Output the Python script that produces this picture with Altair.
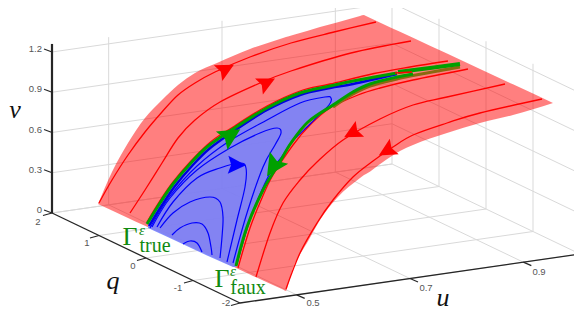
import altair as alt

W, H = 566, 301
X_DOM = [8, 574]
Y_DOM = [309, 8]

# axis ticks
u_ticks = [0.5, 0.7, 0.9]
q_ticks = [-2, -1, 0, 1, 2]
v_ticks = [0, 0.3, 0.6, 0.9, 1.2]
U_MIN, U_MAX, Q_MAX, V_TOP = 0.4, 1.0, 2, 1.25


def proj(u, q, v):
    sx = 52 + (u - U_MIN) / 0.6 * 340 + (Q_MAX - q) / 4 * 188
    sy = 213 - (u - U_MIN) / 0.6 * 49 + (Q_MAX - q) / 4 * 90 - v / 1.2 * 161
    return sx, sy


# surface silhouette (picture plane)
surf_x = [98, 112, 128, 145, 162, 178, 195, 217, 250, 283, 286, 288, 293, 300, 307, 320, 337, 360, 364, 366, 383, 400, 413, 447, 480, 513, 553]
surf_top = [204, 172, 143, 118, 100, 85, 73, 63, 49, 38, 37, 36.5, 35, 33, 31, 27, 22.5, 16, 15, 16, 23.9, 31.8, 37.8, 53.6, 69, 84.3, 103]
surf_bot = [204, 210.5, 218, 225.8, 233.6, 241, 249, 259, 274.4, 289.6, 291, 285, 268, 254.5, 243, 220, 198, 178, 175, 174, 162, 151, 145, 133, 123, 115, 103]

# region between the two invariant curves
blue_x = [148, 160, 173, 190, 207, 233, 236, 247, 263, 267, 278, 291, 300, 308, 330, 333, 353, 370, 397]
blue_top = [224, 203, 184, 164, 147, 129, 127, 120, 110.5, 108, 103, 97, 93, 91.5, 86, 85.5, 81, 78, 74]
blue_bot = [228, 233.5, 239.5, 247.5, 255.5, 267, 267, 227, 190, 183, 165, 143, 132, 122, 107, 105, 92, 84, 77]

# red trajectories
red_lines = {
    "r1": ([99, 112, 128, 145, 162, 178, 195, 215, 250, 291, 334, 376], [203, 180, 155, 132, 112, 95, 83, 72, 57, 43, 32, 22]),
    "r2": ([130, 145, 162, 178, 195, 220, 260, 291, 351, 411], [213, 190, 163, 138, 120, 102, 83, 71, 53, 41]),
    "r3": ([147, 173, 207, 233, 267, 300, 330, 374, 410, 448], [222, 182, 145, 127, 106, 91, 84, 73.5, 67, 61]),
    "r5": ([238, 250, 262, 273, 293, 310, 330, 358, 380, 413, 468], [268, 228, 198, 175, 145, 125, 108, 95, 88, 80, 69]),
    "r6": ([256, 270, 283, 300, 317, 343, 380, 413, 447, 505], [277, 233, 203, 180, 162, 140, 119, 105, 97, 84]),
    "r7": ([286, 300, 317, 333, 353, 373, 393, 413, 447, 480, 542], [289, 253, 223, 200, 177, 161, 147, 135, 123, 113, 99]),
}

# blue trajectories
blue_lines = {
    "b1": ([183, 190, 197, 202], [244, 241, 243, 252]),
    "b2": ([172, 180, 192, 202, 208, 211, 212], [235, 228, 223, 224, 233, 247, 255]),
    "b3": ([160, 173, 190, 210, 220, 223, 222, 220], [228, 213, 202, 197, 202, 217, 237, 258]),
    "b4": ([157, 173, 197, 220, 240, 246, 245, 237, 227], [227, 202, 178, 168, 163, 168, 187, 220, 262]),
    "b5": ([152, 170, 197, 230, 260, 277, 281, 275, 263, 247, 233], [227, 198, 170, 148, 133, 128, 133, 145, 167, 213, 263]),
    "b6": ([150, 170, 197, 228, 267, 300, 325, 331, 329, 311, 291, 283, 268, 250, 237], [228, 196, 166, 142, 120, 103, 97, 98, 105, 123, 143, 155, 177, 220, 264]),
}
blue_edge_x = [149, 162, 175, 192, 209, 234, 267, 300, 330, 353, 397]
blue_edge_y = [226, 205, 186, 166, 149, 131, 110, 95, 88, 84, 74]

# green invariant curves
green_up_x = [147, 160, 173, 190, 207, 233, 267, 300, 330, 353, 397]
green_up_y = [224, 203, 184, 164, 147, 129, 108, 93, 86, 81, 73]
green_end_x = [398, 430, 460]
green_end_y = [72, 68, 64]
green_lo_x = [236, 247, 263, 278, 291, 308, 333, 353, 370, 397, 413]
green_lo_y = [266, 227, 190, 165, 143, 122, 105, 92, 84, 77, 74]
brown_x = [333, 353, 370, 397, 413, 460]
brown_y = [107, 94, 86, 79, 75.5, 67]
dash_x = [395, 412]
dash_y = [73, 72]

# arrowheads: centre, heading in degrees, half length
arrow_x = [226, 267, 231, 237, 273, 352, 386.5]
arrow_y = [69, 82.5, 135, 165, 167, 133, 151]
arrow_angle = [332, 334, 328, 2, 123, 152, 150]
arrow_size = [320, 320, 480, 320, 480, 320, 320]
arrow_color = ["#ff0000", "#ff0000", "#00a000", "#0000ff", "#00a000", "#ff0000", "#ff0000"]
ARROW_PATH = "M1,0 L-1,-1 L-0.65,0 L-1,1 Z"

x_enc = alt.X("x:Q", scale=alt.Scale(domain=X_DOM, nice=False, zero=False), axis=None)
y_enc = alt.Y("y:Q", scale=alt.Scale(domain=Y_DOM, nice=False, zero=False), axis=None)


def poly(pts_list, color, width, interp="linear", opacity=1.0, cap="butt"):
    rows = []
    for g, (xs, ys) in enumerate(pts_list):
        rows += [{"x": a, "y": b, "g": g, "i": i} for i, (a, b) in enumerate(zip(xs, ys))]
    return alt.Chart(alt.Data(values=rows)).mark_line(
        color=color, strokeWidth=width, interpolate=interp, opacity=opacity, strokeCap=cap
    ).encode(x=x_enc, y=y_enc, detail="g:N", order="i:Q")


def area(xs, top, bot, color, opacity, interp="linear"):
    rows = [{"x": a, "y": b, "y2": c} for a, b, c in zip(xs, top, bot)]
    return alt.Chart(alt.Data(values=rows)).mark_area(color=color, opacity=opacity, interpolate=interp).encode(
        x=x_enc, y=y_enc, y2="y2:Q"
    )


def text(items, font, size, color, align="center", italic=False, baseline="middle"):
    rows = [{"x": a, "y": b, "t": t} for t, a, b in items]
    kw = {"fontStyle": "italic"} if italic else {}
    return alt.Chart(alt.Data(values=rows)).mark_text(
        font=font, fontSize=size, color=color, align=align, baseline=baseline, **kw
    ).encode(x=x_enc, y=y_enc, text="t:N")


def seg(a, b):
    return ([a[0], b[0]], [a[1], b[1]])


# grid built from tick values
grid = []
for v in v_ticks:
    grid.append(seg(proj(U_MIN, 2, v), proj(U_MAX, 2, v)))
    grid.append(seg(proj(U_MAX, 2, v), proj(U_MAX, -2, v)))
for u in u_ticks:
    grid.append(seg(proj(u, 2, 0), proj(u, 2, V_TOP)))
    grid.append(seg(proj(u, 2, 0), proj(u, -2, 0)))
for q in q_ticks:
    grid.append(seg(proj(U_MIN, q, 0), proj(U_MAX, q, 0)))
    top = 1.2 if q == 2 else V_TOP
    grid.append(seg(proj(U_MAX, q, 0), proj(U_MAX, q, top)))

# axes and ticks
axes_v = [seg(proj(U_MIN, 2, 0), proj(U_MIN, 2, 1.26))]
axes_xy = [seg(proj(U_MIN, 2, 0), proj(U_MIN, -2, 0)), seg(proj(U_MIN, -2, 0), proj(U_MAX, -2, 0))]
tick_lines = []
for v in v_ticks:
    a = proj(U_MIN, 2, v)
    tick_lines.append(seg(a, (a[0] - 8, a[1] - 3)))
for q in q_ticks:
    a = proj(U_MIN, q, 0)
    tick_lines.append(seg(a, (a[0] - 9, a[1] + 2.5)))
for u in u_ticks:
    a = proj(u, -2, 0)
    tick_lines.append(seg(a, (a[0] + 8, a[1] + 3.5)))

v_labels = [("0", 42, 210), ("0.3", 42, 170), ("0.6", 42, 130), ("0.9", 42, 89), ("1.2", 42, 49)]
q_labels = [("2", 38, 222), ("1", 87, 243), ("0", 133, 266), ("-1", 178, 288), ("-2", 226, 303)]
u_labels = [("0.5", 313, 303), ("0.7", 426, 288), ("0.9", 539, 272)]

SANS = "Liberation Sans"
SERIF = "Liberation Serif"
GREEN_TXT = "#118a11"

arrow_rows = [
    {"x": a, "y": b, "ang": c, "s": d, "col": e}
    for a, b, c, d, e in zip(arrow_x, arrow_y, arrow_angle, arrow_size, arrow_color)
]
arrows = alt.Chart(alt.Data(values=arrow_rows)).mark_point(
    filled=True, opacity=1, shape=ARROW_PATH, strokeWidth=0
).encode(
    x=x_enc, y=y_enc,
    angle=alt.Angle("ang:Q", scale=None),
    size=alt.Size("s:Q", scale=None),
    color=alt.Color("col:N", scale=None),
)

chart = alt.layer(
    poly(grid, "#d9d9d9", 1),
    area(surf_x, surf_top, surf_bot, "#ff0000", 0.5, "monotone"),
    area(blue_x, blue_top, blue_bot, "#7684ff", 0.9),
    poly(list(red_lines.values()), "#ff0000", 1.3, "cardinal"),
    poly(list(blue_lines.values()), "#0000ff", 1.2, "cardinal"),
    poly([(blue_edge_x, blue_edge_y)], "#0000e0", 2.4, "cardinal"),
    poly([(brown_x, brown_y)], "#8a6a10", 3, "cardinal"),
    poly([(green_up_x, green_up_y), (green_lo_x, green_lo_y)], "#00a000", 3, "cardinal"),
    poly([(green_end_x, green_end_y)], "#00a000", 4.2),
    poly([(dash_x, dash_y)], "#ff0000", 1.3),
    arrows,
    poly(axes_v, "#262626", 2.2),
    poly(axes_xy, "#262626", 1.3),
    poly(tick_lines, "#262626", 1.2),
    text(v_labels, SANS, 9.5, "#555555", align="right"),
    text(q_labels + u_labels, SANS, 9.5, "#555555"),
    text([("v", 15, 110), ("q", 113, 281), ("u", 443, 298)], SERIF, 26, "#111111", italic=True),
    text([("Γ", 130, 237), ("Γ", 222, 279)], SERIF, 26, GREEN_TXT),
    text([("ε", 142, 230), ("ε", 233, 271)], SERIF, 15, GREEN_TXT, italic=True),
    text([("true", 155, 246), ("faux", 248, 288)], SERIF, 20, GREEN_TXT),
).properties(
    width=W, height=H, padding=0,
    autosize=alt.AutoSizeParams(type="none"),
    background="white",
).configure_view(stroke=None)

chart.save("out.html", embed_options={"renderer": "svg", "actions": False})
